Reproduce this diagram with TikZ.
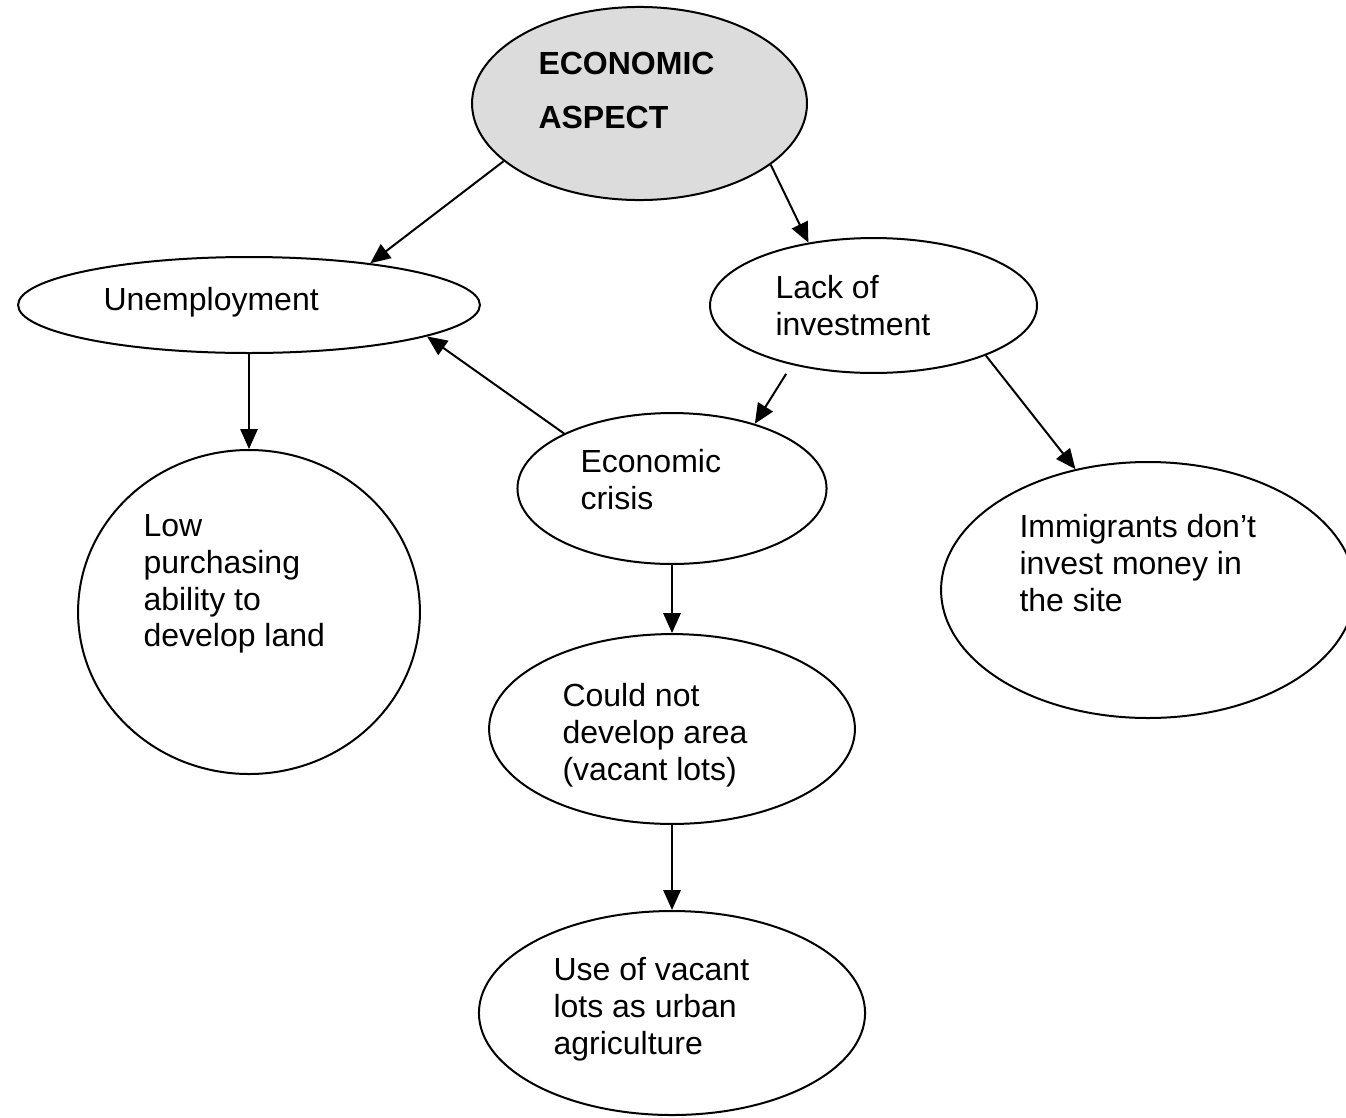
\documentclass[tikz,border=0pt]{standalone}
\usepackage{fontspec}
\setmainfont{Liberation Sans}
\usetikzlibrary{shapes.geometric, arrows.meta}

\definecolor{hubgray}{RGB}{220,220,220}

\begin{document}
\begin{tikzpicture}[
  x=0.375pt, y=-0.375pt,
  bubble/.style={ellipse, draw, line width=0.75pt, inner sep=0pt},
  txt/.style={anchor=north west, align=left, inner sep=0pt,
              font=\fontsize{12}{13.8}\selectfont},
  arrow/.style={-{Triangle[length=7.5pt, width=6.5pt]}, line width=0.75pt}
]
\useasboundingbox (0,0) rectangle (1346,1117);

%% --- Ellipses ---
\node[bubble, fill=hubgray, minimum width=125.6pt, minimum height=72.4pt]
    (aspect) at (639.5,103.5) {};
\node[bubble, minimum width=173.2pt, minimum height=36pt]
    (unemp) at (249,305) {};
\node[bubble, minimum width=122.6pt, minimum height=50.6pt]
    (lack) at (873.5,305.5) {};
\node[bubble, minimum width=115.9pt, minimum height=56.6pt]
    (crisis) at (672,488.5) {};
\node[bubble, minimum width=128.2pt, minimum height=121.5pt]
    (lowbuy) at (249,612) {};
\node[bubble, minimum width=155.2pt, minimum height=96pt]
    (immig) at (1148,590) {};
\node[bubble, minimum width=137.2pt, minimum height=71.2pt]
    (nodev) at (672,729) {};
\node[bubble, minimum width=144.8pt, minimum height=76.5pt]
    (urbag) at (672,1013) {};

%% --- Texts ---
\node[txt, font=\bfseries\fontsize{12}{20.2}\selectfont]
    (aspect-txt) at (538,52) {ECONOMIC\\ASPECT};
\node[txt] (unemp-txt)  at (103,287) {Unemployment};
\node[txt] (lack-txt)   at (775,275) {Lack of\\investment};
\node[txt] (crisis-txt) at (580,449) {Economic\\crisis};
\node[txt] (lowbuy-txt) at (143,514)
    {Low\\purchasing\\ability to\\develop land};
\node[txt] (immig-txt)  at (1019,514)
    {Immigrants don’t\\invest money in\\the site};
\node[txt] (nodev-txt)  at (562,683)
    {Could not\\develop area\\(vacant lots)};
\node[txt] (urbag-txt)  at (553,957)
    {Use of vacant\\lots as urban\\agriculture};

%% --- Arrows ---
\draw[arrow] (aspect.203) -- (unemp.19);
\draw[arrow] (aspect.-25) -- (lack.136);
\draw[arrow] (crisis.153) -- (unemp.350);
\draw[arrow, shorten <=4pt] (lack.216) -- (crisis.38);
\draw[arrow] (lack.-24)   -- (immig.121);
\draw[arrow] (unemp) -- (lowbuy);
\draw[arrow] (crisis) -- (nodev);
\draw[arrow] (nodev) -- (urbag);

\end{tikzpicture}
\end{document}
